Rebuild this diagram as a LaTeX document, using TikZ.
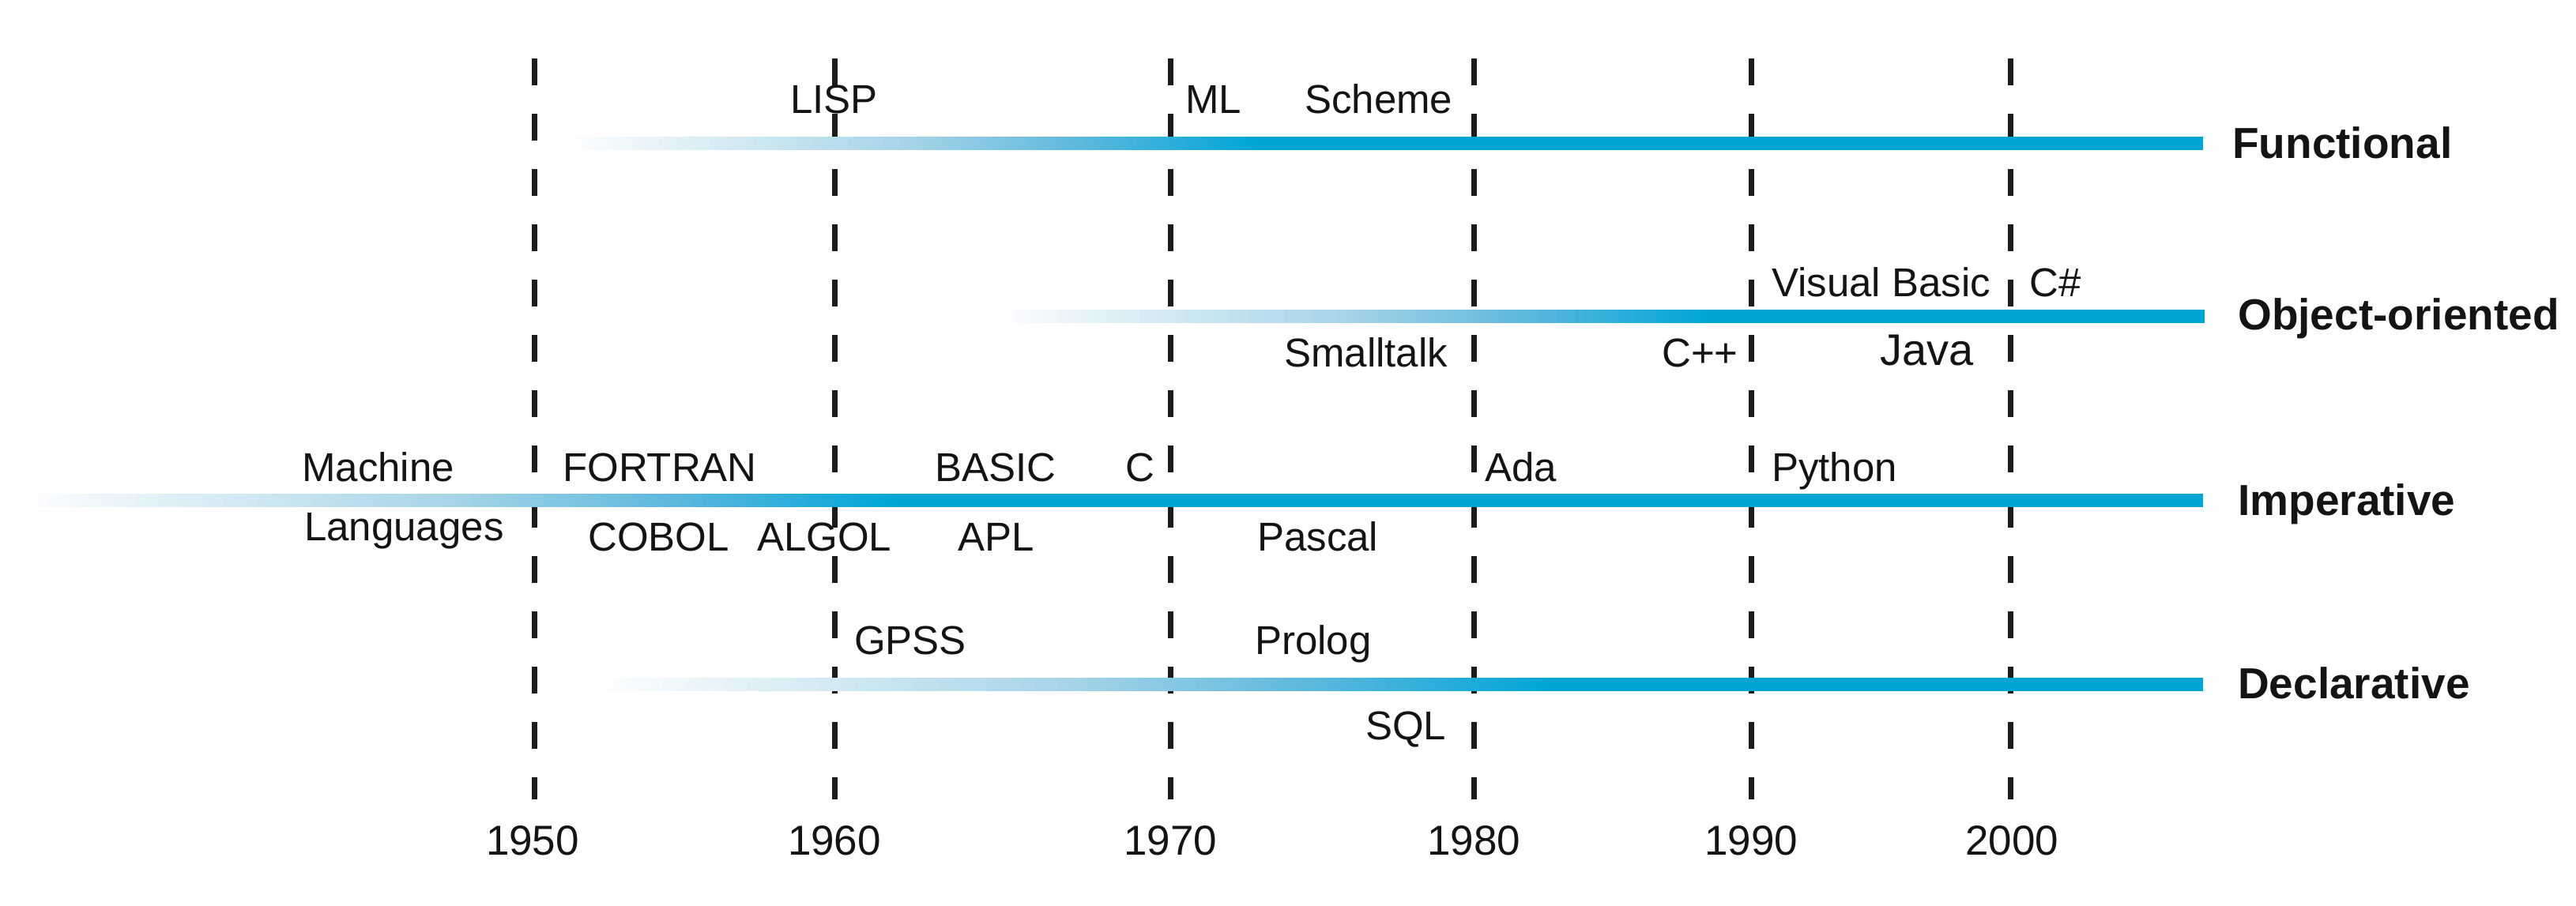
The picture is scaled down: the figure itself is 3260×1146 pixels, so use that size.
\documentclass[tikz,border=0pt]{standalone}
\usepackage{fontspec}
\setmainfont{Liberation Sans}
\definecolor{barblue}{RGB}{0,165,214}
\definecolor{gA}{RGB}{166,212,231}
\definecolor{gB}{RGB}{93,184,221}
\definecolor{dashk}{RGB}{28,28,28}
\definecolor{txt}{RGB}{20,20,20}
% one gradient segment drawn as thin strips: y, x-from, x-to, colour-from, colour-to
\newcommand\gseg[5]{%
  \pgfmathsetmacro\gstep{(#3-#2)/40}%
  \foreach \i in {1,...,40}{%
    \pgfmathtruncatemacro\pp{round((\i-0.5)*2.5)}%
    \pgfmathsetmacro\xa{#2+\gstep*(\i-1)}%
    \pgfmathsetmacro\xb{#2+\gstep*\i+0.8}%
    \fill[#5!\pp!#4] (\xa,#1-8.5) rectangle (\xb,#1+8.5);
  }%
}
% bar: y, start, point of full colour, end
\newcommand\gradbar[4]{%
  \pgfmathsetmacro\gmida{#2+0.5*(#3-#2)}%
  \pgfmathsetmacro\gmidb{#2+0.75*(#3-#2)}%
  \gseg{#1}{#2}{\gmida}{white}{gA}%
  \gseg{#1}{\gmida}{\gmidb}{gA}{gB}%
  \gseg{#1}{\gmidb}{#3}{gB}{barblue}%
  \fill[barblue] (#3,#1-8.5) rectangle (#4,#1+8.5);
}
\tikzset{
  lang/.style={anchor=base west,inner sep=0pt,text=txt,font=\fontsize{51}{60}\selectfont},
  biglang/.style={anchor=base west,inner sep=0pt,text=txt,font=\fontsize{56}{64}\selectfont},
  para/.style={anchor=base west,inner sep=0pt,text=txt,font=\fontsize{55}{64}\selectfont\bfseries},
  yearlbl/.style={anchor=base,inner sep=0pt,text=txt,font=\fontsize{53}{62}\selectfont},
  decade/.style={draw=dashk,line width=7pt,dash pattern=on 34pt off 36pt}
}
\begin{document}
\begin{tikzpicture}[x=1pt,y=-1pt]
\useasboundingbox (0,0) rectangle (3260,1146);
% dashed decade lines
\foreach \nm/\xx in {a/676,b/1056,c/1481,d/1865,e/2216,f/2544}{
  \coordinate (top\nm) at (\xx,74);
  \coordinate (bot\nm) at (\xx,1012);
  \draw[decade] (top\nm) -- (bot\nm);
}
% bars
\gradbar{181.5}{713}{1586}{2788}
\gradbar{400}{1250}{2158}{2790}
\gradbar{633.5}{19}{1132}{2788}
\gradbar{866.5}{748}{1960}{2788}
% paradigm labels
\node[para] (functional) at (2825,200) {Functional};
\node[para] (objor) at (2832,417) {Object-oriented};
\node[para] (imperative) at (2832,652) {Imperative};
\node[para] (declarative) at (2832,884) {Declarative};
% functional
\node[lang] (lisp) at (1000,143) {LISP};
\node[lang] (ml) at (1500,143) {ML};
\node[lang] (scheme) at (1651,143) {Scheme};
% object-oriented
\node[lang] (vb) at (2242,375) {Visual Basic};
\node[lang] (csharp) at (2568,375) {C\#};
\node[lang] (smalltalk) at (1625,464) {Smalltalk};
\node[lang] (cpp) at (2103,464) {C++};
\node[biglang] (java) at (2379,462) {Java};
% imperative
\node[lang] (machine) at (382,609) {Machine};
\node[lang] (languages) at (385,684) {Languages};
\node[lang] (fortran) at (712,609) {FORTRAN};
\node[lang] (basic) at (1183,609) {BASIC};
\node[lang] (clang) at (1424,609) {C};
\node[lang] (ada) at (1879,609) {Ada};
\node[lang] (python) at (2242,609) {Python};
\node[lang] (cobol) at (744,697) {COBOL};
\node[lang] (algol) at (958,697) {ALGOL};
\node[lang] (apl) at (1212,697) {APL};
\node[lang] (pascal) at (1591,697) {Pascal};
% declarative
\node[lang] (gpss) at (1081,828) {GPSS};
\node[lang] (prolog) at (1588,828) {Prolog};
\node[lang] (sql) at (1728,936) {SQL};
% years
\node[yearlbl] (y1950) at (674,1082) {1950};
\node[yearlbl] (y1960) at (1056,1082) {1960};
\node[yearlbl] (y1970) at (1481,1082) {1970};
\node[yearlbl] (y1980) at (1865,1082) {1980};
\node[yearlbl] (y1990) at (2216,1082) {1990};
\node[yearlbl] (y2000) at (2546,1082) {2000};
\end{tikzpicture}
\end{document}
